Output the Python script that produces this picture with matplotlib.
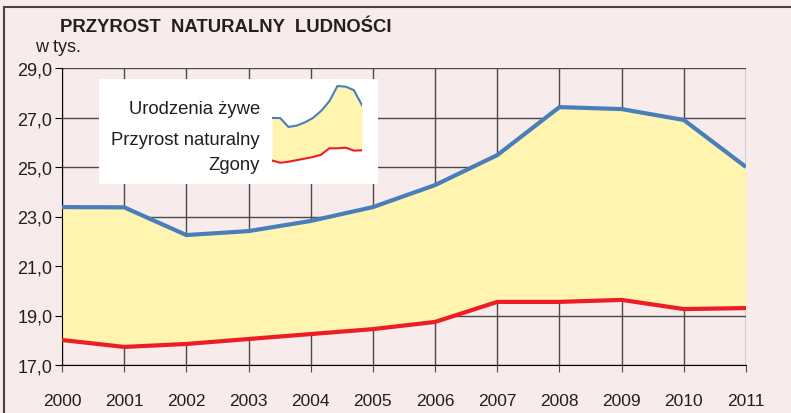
import matplotlib
matplotlib.use("Agg")
import matplotlib.pyplot as plt
from matplotlib.patches import Rectangle
from matplotlib import font_manager

# dane (w tys.)
years = [2000, 2001, 2002, 2003, 2004, 2005, 2006, 2007, 2008, 2009, 2010, 2011]
births = [23.38, 23.37, 22.25, 22.41, 22.82, 23.38, 24.27, 25.48, 27.42, 27.34, 26.90, 25.00]
deaths = [18.01, 17.73, 17.85, 18.05, 18.25, 18.45, 18.74, 19.55, 19.55, 19.63, 19.26, 19.30]
yticks = [17, 19, 21, 23, 25, 27, 29]
ytick_labels = ["17,0", "19,0", "21,0", "23,0", "25,0", "27,0", "29,0"]
legend_labels = ["Urodzenia żywe", "Przyrost naturalny", "Zgony"]

bg = "#F7EBEB"
fill_col = "#FFF4B0"
blue = "#4A7EBB"
red = "#EE1C25"
grid_col = "#4a4a4a"
txt = "#231F20"

plt.rcParams["font.family"] = ["Liberation Sans", "DejaVu Sans"]

# waska czcionka dla lat, jesli jest
narrow = None
for name in ["Liberation Sans Narrow", "DejaVu Sans Condensed"]:
    try:
        font_manager.findfont(name, fallback_to_default=False)
        narrow = name
        break
    except Exception:
        pass

fig = plt.figure(figsize=(7.91, 4.14), dpi=100)
fig.patch.set_facecolor(bg)

# ramka
fig.patches.append(Rectangle((4 / 791, -0.1), 1.2, 1 - 8 / 414 + 0.1, transform=fig.transFigure,
                             fill=False, edgecolor="#444444", linewidth=1.5, zorder=0))

ax = fig.add_axes([62 / 791, 1 - 366 / 414, 684 / 791, 297 / 414])
ax.set_facecolor(bg)
ax.fill_between(years, deaths, births, color=fill_col, zorder=2, linewidth=0)
ax.plot(years, births, color=blue, lw=3, zorder=3, solid_capstyle="butt")
ax.plot(years, deaths, color=red, lw=3, zorder=3, solid_capstyle="butt")

ax.set_xlim(2000, 2011)
ax.set_ylim(17, 29)
ax.set_xticks(years)
if narrow == "Liberation Sans Narrow":
    ax.set_xticklabels([str(y) for y in years], family=[narrow, "Liberation Sans"], fontsize=14, color=txt)
elif narrow:
    ax.set_xticklabels([str(y) for y in years], family=[narrow, "Liberation Sans"], fontsize=12.5, color=txt)
else:
    ax.set_xticklabels([str(y) for y in years], fontsize=12.5, color=txt)
ax.set_yticks(yticks)
ax.set_yticklabels(ytick_labels, fontsize=13, color=txt)
ax.grid(True, color=grid_col, lw=1)
ax.set_axisbelow(True)
for s in ["top", "right"]:
    ax.spines[s].set_visible(False)
ax.spines["left"].set_color("black")
ax.spines["bottom"].set_color("black")
ax.tick_params(axis="x", direction="out", length=5, pad=15, color=grid_col)
ax.tick_params(axis="y", direction="out", length=5, pad=2)

# tytul
fig.text(60 / 791, 1 - 27 / 414, "PRZYROST  NATURALNY  LUDNOŚCI", fontsize=13.3, fontweight="bold",
         color=txt, va="center", ha="left")
fig.text(35 / 791, 1 - 48 / 414, "w tys.", fontsize=13, color=txt, va="center", ha="left")

# legenda
fig.patches.append(Rectangle((99 / 791, 1 - 185 / 414), 279 / 791, 105 / 414, transform=fig.transFigure,
                             facecolor="white", edgecolor="none", zorder=5))
for lab, yp in zip(legend_labels, [110, 141, 166]):
    fig.text(260 / 791, 1 - yp / 414, lab, fontsize=13.3, color=txt, ha="right", va="center", zorder=6)

ins = fig.add_axes([272 / 791, 1 - 169.5 / 414, 90 / 791, 95 / 414], zorder=7)
ins.fill_between(years, deaths, births, color=fill_col, linewidth=0)
ins.plot(years, births, color=blue, lw=1.5)
ins.plot(years, deaths, color=red, lw=1.5)
ins.set_xlim(2000, 2011)
ins.set_ylim(17, 29)
ins.axis("off")

fig.savefig("out.png", dpi=100, facecolor=bg)
